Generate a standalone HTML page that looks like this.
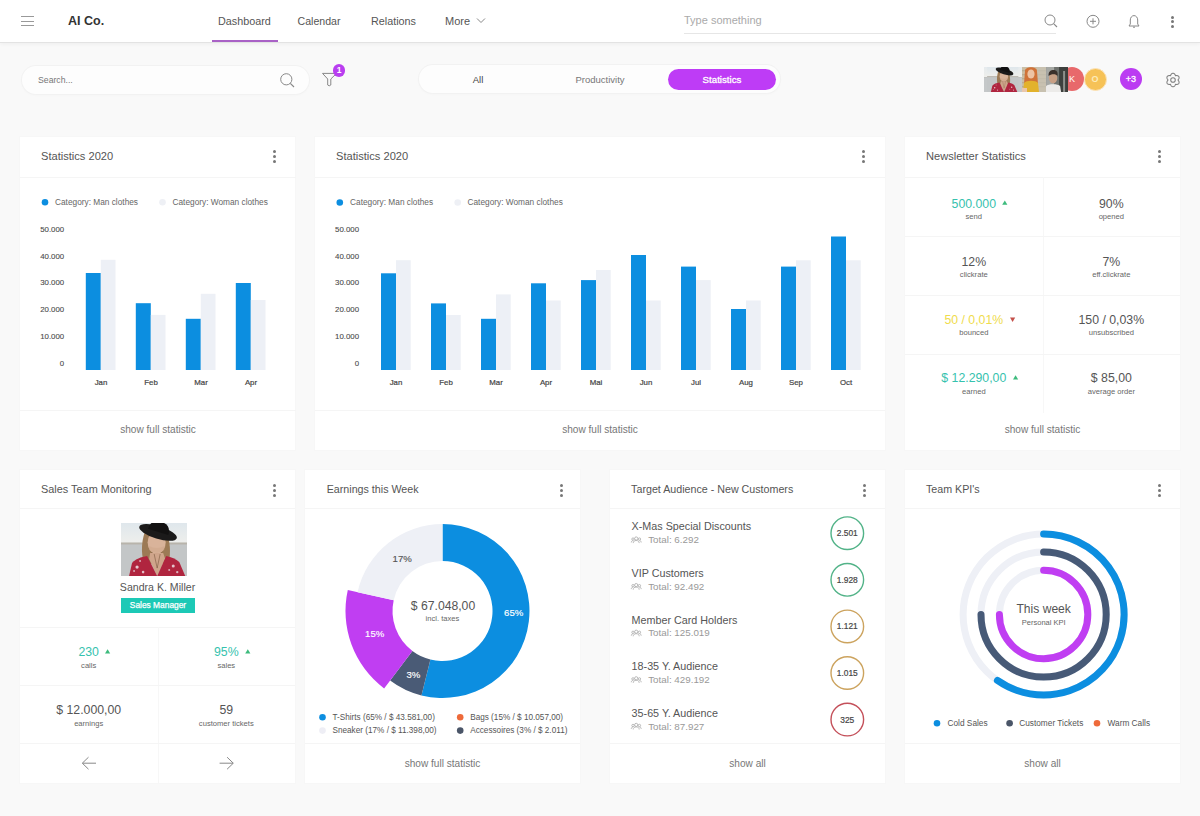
<!DOCTYPE html>
<html><head><meta charset="utf-8">
<style>
*{box-sizing:border-box;margin:0;padding:0}
html,body{width:1200px;height:816px;overflow:hidden;background:#f9f9f9;font-family:"Liberation Sans",sans-serif;color:#555}
.a{position:absolute}
.t{position:absolute;white-space:nowrap;line-height:20px;height:20px}
.c{text-align:center}
.r{text-align:right}
#hdr{position:absolute;left:0;top:0;width:1200px;height:42px;background:#fff;box-shadow:0 1px 0 #e3e3e3,0 2px 4px rgba(0,0,0,.05)}
.card{position:absolute;background:#fff;box-shadow:0 0 0 1px #f7f7f7}
.hl{position:absolute;height:1px;background:#f1f1f1}
.vl{position:absolute;width:1px;background:#f1f1f1}
.ttl{font-size:11px;color:#555}
.dots{position:absolute;width:3px;height:13px}
.dots i{position:absolute;left:0;width:3px;height:3px;border-radius:50%;background:#777}
.foot{font-size:10px;color:#777}
.pill{position:absolute;background:#fdfdfd;border-radius:14px;box-shadow:0 0 0 1px #f2f2f2,0 1px 3px rgba(0,0,0,.03)}
</style></head><body>
<!-- HEADER -->
<div id="hdr"></div>
<!-- hamburger -->
<div class="a" style="left:20.5px;top:16px;width:13px;height:1.2px;background:#999"></div>
<div class="a" style="left:20.5px;top:20.5px;width:13px;height:1.2px;background:#999"></div>
<div class="a" style="left:20.5px;top:25px;width:13px;height:1.2px;background:#999"></div>
<div class="t" style="left:68px;top:11px;font-size:12.5px;font-weight:bold;color:#333">AI Co.</div>
<div class="t" style="left:218px;top:11px;font-size:10.8px;color:#555">Dashboard</div>
<div class="t" style="left:297.5px;top:11px;font-size:10.6px;color:#555">Calendar</div>
<div class="t" style="left:371px;top:11px;font-size:10.8px;color:#555">Relations</div>
<div class="t" style="left:445px;top:11px;font-size:11px;color:#555">More</div>
<svg class="a" style="left:476px;top:17px" width="10" height="7" viewBox="0 0 10 7"><path d="M1 1.5 L5 5.5 L9 1.5" fill="none" stroke="#888" stroke-width="1"/></svg>
<div class="a" style="left:212px;top:40px;width:66px;height:2px;background:#a962c6"></div>
<div class="t" style="left:684px;top:10px;font-size:11px;color:#aaa">Type something</div>
<div class="a" style="left:684px;top:33px;width:372px;height:1px;background:#e6e6e6"></div>
<!-- header icons -->
<svg class="a" style="left:1043px;top:13px" width="16" height="16" viewBox="0 0 16 16"><circle cx="7" cy="7" r="5" fill="none" stroke="#888" stroke-width="1"/><path d="M10.6 10.6 L14 14" stroke="#888" stroke-width="1.1"/></svg>
<svg class="a" style="left:1085px;top:13px" width="16" height="16" viewBox="0 0 16 16"><circle cx="8" cy="8.3" r="6" fill="none" stroke="#888" stroke-width="1"/><path d="M8 5.3 V11.3 M5 8.3 H11" stroke="#888" stroke-width="1"/></svg>
<svg class="a" style="left:1126px;top:13px" width="16" height="16" viewBox="0 0 16 16"><path d="M3 13 L13 13 L11.7 11 L11.7 7 C11.7 4.5 10 2.6 8 2.6 C6 2.6 4.3 4.5 4.3 7 L4.3 11 Z" fill="none" stroke="#888" stroke-width="1" stroke-linejoin="round"/><path d="M7 14.2 H9" stroke="#888" stroke-width="1"/></svg>
<div class="dots" style="left:1171px;top:15.5px"><i style="top:0"></i><i style="top:4.7px"></i><i style="top:9.4px"></i></div>

<!-- TOOLBAR -->
<div class="pill" style="left:21.5px;top:65.5px;width:287px;height:28px"></div>
<div class="t" style="left:38px;top:70px;font-size:8.7px;color:#777">Search...</div>
<svg class="a" style="left:279px;top:72px" width="17" height="17" viewBox="0 0 17 17"><circle cx="7.3" cy="7.3" r="5.6" fill="none" stroke="#888" stroke-width="1"/><path d="M11.3 11.3 L15 15" stroke="#888" stroke-width="1.1"/></svg>
<svg class="a" style="left:321px;top:72px" width="17" height="16" viewBox="0 0 17 16"><path d="M1.5 1.4 H15.5 L9.8 7 V13 Q8.2 14.6 6.7 13 V7 Z" fill="none" stroke="#888" stroke-width="1" stroke-linejoin="round"/></svg>
<div class="a c" style="left:332.7px;top:64.1px;width:12.8px;height:12.8px;border-radius:50%;background:#b93ef0;color:#fff;font-size:8.5px;line-height:12.8px;font-weight:bold">1</div>

<div class="pill" style="left:419px;top:65px;width:361px;height:28px"></div>
<div class="a" style="left:668px;top:69px;width:108px;height:21px;border-radius:11px;background:#be3cf6"></div>
<div class="t c" style="left:428px;top:69.5px;width:100px;font-size:9.5px;color:#444">All</div>
<div class="t c" style="left:550px;top:69.5px;width:100px;font-size:9.5px;color:#777">Productivity</div>
<div class="t c" style="left:672px;top:69.5px;width:100px;font-size:9.7px;color:#fff;-webkit-text-stroke:0.3px #fff">Statistics</div>

<!-- avatars -->
<div class="a c" style="left:1060px;top:67px;width:24px;height:24px;border-radius:50%;background:#e8696b;color:#fff;font-size:9px;line-height:24px;text-indent:0px">K</div>
<div class="a" style="left:984.4px;top:66.6px;width:37.4px;height:25px;overflow:hidden;background:linear-gradient(180deg,#e6ebee 0,#eeeeeb 38%,#b9b7b0 39%,#c5c8c9 44%,#c5c8c9 100%)"><svg width="37.4" height="25" viewBox="0 0 66 53" preserveAspectRatio="xMidYMid meet" style="display:block">
<defs><linearGradient id="skya" x1="0" y1="0" x2="0" y2="1"><stop offset="0" stop-color="#dfe7ec"/><stop offset="1" stop-color="#efefec"/></linearGradient></defs>
<rect width="66" height="21" fill="url(#skya)"/>
<rect y="20" width="66" height="33" fill="#c3c6c7"/>
<rect y="19.5" width="66" height="2" fill="#b8b4ab"/>
<path d="M24 8 C19 22 21 34 23 41 L47 41 C49 34 50 24 46 10 Z" fill="#9c7a55"/><path d="M30 28 L41 28 L40 41 L31 41 Z" fill="#8a6a48"/>
<ellipse cx="35.5" cy="19.5" rx="9" ry="11.3" fill="#d9b39a"/>
<path d="M27.5 23 Q35.5 27 43.5 23 L43 27 Q35.5 33 28 27 Z" fill="#cfa68c" opacity=".6"/>
<g transform="rotate(17 37 9)"><ellipse cx="37" cy="9.5" rx="19.5" ry="6.3" fill="#1b1a1a"/><path d="M26.5 9 C26.5 1 31 -1.5 37 -1.5 C43 -1.5 47.5 1 47.5 9 Z" fill="#121111"/></g>
<path d="M29 30 L42 30 L44 36 L36 53 L28 36 Z" fill="#cfa58b"/>
<path d="M8 53 L11 40 C14 36 20 34 26 33 L36 53 Z" fill="#b0253f"/>
<path d="M64 53 L58 39 C55 36 50 34 45 33 L36 53 Z" fill="#b0253f"/>
<circle cx="16" cy="44" r="1.6" fill="#e7c9d0"/><circle cx="22" cy="49" r="1.3" fill="#e2c0c8"/><circle cx="52" cy="43" r="1.5" fill="#e3c3cb"/><circle cx="56" cy="49" r="1.2" fill="#dcb5bf"/><circle cx="19" cy="38" r="1" fill="#d9aab6"/><circle cx="13" cy="48" r="1" fill="#d9aab6"/><circle cx="48" cy="47" r="1" fill="#d9aab6"/>
<path d="M33 31 L36 45 L39 31" fill="none" stroke="#6b4a30" stroke-width=".5"/>
</svg></div>
<div class="a" style="left:1021.8px;top:66.6px;width:24px;height:25px;overflow:hidden"><svg width="24" height="25" viewBox="0 0 24 25" style="display:block">
<rect width="24" height="25" fill="#cbbfa6"/>
<g fill="#b9ad95"><rect y="3" width="24" height="1.3"/><rect y="7" width="24" height="1.3"/><rect y="11" width="24" height="1.3"/><rect y="15" width="24" height="1.3"/><rect y="19" width="24" height="1.3"/></g>
<rect x="15" width="9" height="25" fill="#c6c2b5" opacity=".7"/>
<path d="M3 4 C3 -1 15 -1 15 4 L16 17 L2 17 Z" fill="#d07238"/>
<ellipse cx="9" cy="7" rx="3.6" ry="4.6" fill="#edc3a4"/>
<path d="M1 25 L2 16 C4 13 14 13 16 16 L17 25 Z" fill="#e2b22c"/>
<rect x="0" y="21" width="5" height="4" fill="#eac7ad"/>
</svg></div>
<div class="a" style="left:1045.8px;top:66.6px;width:22.2px;height:25px;overflow:hidden"><svg width="22.2" height="25" viewBox="0 0 22 25" style="display:block">
<rect width="22" height="25" fill="#6f726e"/>
<rect x="0" width="8" height="25" fill="#a6a8a4"/>
<rect x="13" width="9" height="25" fill="#3d403d"/>
<rect x="17" y="4" width="2" height="21" fill="#8d8f8b"/>
<ellipse cx="7" cy="11" rx="4.2" ry="5.2" fill="#c89f84"/>
<path d="M2.5 9 C2 4 5 3 7.5 3 C10.5 3 12 5 11.5 9 C10 6.5 5 6.5 2.5 9 Z" fill="#3b302a"/>
<path d="M-1 25 L0 19 C2 16.5 12 16.5 14 19 L15 25 Z" fill="#ecebe9"/>
</svg></div>
<div class="a c" style="left:1083.6px;top:67.5px;width:23px;height:23px;border-radius:50%;background:#f6c257;border:1px solid #fce4bb;color:#fdebb8;font-size:9px;line-height:21px;font-weight:bold">O</div>
<div class="a c" style="left:1120px;top:68px;width:22px;height:22px;border-radius:50%;background:#bb3cf2;color:#fff;font-size:9px;line-height:22px;-webkit-text-stroke:0.3px #fff">+3</div>
<svg class="a" style="left:1162.85px;top:69.6px" width="20" height="20" viewBox="0 0 20 20"><path d="M15.00 10.00 L15.11 9.82 L15.25 9.63 L15.40 9.43 L15.54 9.22 L15.67 9.00 L15.80 8.77 L15.90 8.53 L15.98 8.28 L16.05 8.04 L16.08 7.79 L16.09 7.54 L16.07 7.30 L16.03 7.06 L15.95 6.84 L15.85 6.62 L15.71 6.43 L15.56 6.25 L15.38 6.09 L15.18 5.96 L14.96 5.84 L14.72 5.75 L14.48 5.68 L14.22 5.63 L13.96 5.60 L13.70 5.59 L13.44 5.59 L13.19 5.61 L12.94 5.63 L12.71 5.66 L12.50 5.67 L12.40 5.48 L12.31 5.27 L12.21 5.04 L12.10 4.81 L11.97 4.59 L11.83 4.37 L11.68 4.15 L11.51 3.96 L11.32 3.78 L11.12 3.63 L10.91 3.49 L10.69 3.39 L10.47 3.31 L10.24 3.27 L10.00 3.25 L9.76 3.27 L9.53 3.31 L9.31 3.39 L9.09 3.49 L8.88 3.63 L8.68 3.78 L8.49 3.96 L8.32 4.15 L8.17 4.37 L8.03 4.59 L7.90 4.81 L7.79 5.04 L7.69 5.27 L7.60 5.48 L7.50 5.67 L7.29 5.66 L7.06 5.63 L6.81 5.61 L6.56 5.59 L6.30 5.59 L6.04 5.60 L5.78 5.63 L5.52 5.68 L5.28 5.75 L5.04 5.84 L4.82 5.96 L4.62 6.09 L4.44 6.25 L4.29 6.43 L4.15 6.62 L4.05 6.84 L3.97 7.06 L3.93 7.30 L3.91 7.54 L3.92 7.79 L3.95 8.04 L4.02 8.28 L4.10 8.53 L4.20 8.77 L4.33 9.00 L4.46 9.22 L4.60 9.43 L4.75 9.63 L4.89 9.82 L5.00 10.00 L4.89 10.18 L4.75 10.37 L4.60 10.57 L4.46 10.78 L4.33 11.00 L4.20 11.23 L4.10 11.47 L4.02 11.72 L3.95 11.96 L3.92 12.21 L3.91 12.46 L3.93 12.70 L3.97 12.94 L4.05 13.16 L4.15 13.38 L4.29 13.57 L4.44 13.75 L4.62 13.91 L4.82 14.04 L5.04 14.16 L5.28 14.25 L5.52 14.32 L5.78 14.37 L6.04 14.40 L6.30 14.41 L6.56 14.41 L6.81 14.39 L7.06 14.37 L7.29 14.34 L7.50 14.33 L7.60 14.52 L7.69 14.73 L7.79 14.96 L7.90 15.19 L8.03 15.41 L8.17 15.63 L8.32 15.85 L8.49 16.04 L8.68 16.22 L8.88 16.37 L9.09 16.51 L9.31 16.61 L9.53 16.69 L9.76 16.73 L10.00 16.75 L10.24 16.73 L10.47 16.69 L10.69 16.61 L10.91 16.51 L11.12 16.37 L11.32 16.22 L11.51 16.04 L11.68 15.85 L11.83 15.63 L11.97 15.41 L12.10 15.19 L12.21 14.96 L12.31 14.73 L12.40 14.52 L12.50 14.33 L12.71 14.34 L12.94 14.37 L13.19 14.39 L13.44 14.41 L13.70 14.41 L13.96 14.40 L14.22 14.37 L14.48 14.32 L14.72 14.25 L14.96 14.16 L15.18 14.04 L15.38 13.91 L15.56 13.75 L15.71 13.57 L15.85 13.38 L15.95 13.16 L16.03 12.94 L16.07 12.70 L16.09 12.46 L16.08 12.21 L16.05 11.96 L15.98 11.72 L15.90 11.47 L15.80 11.23 L15.67 11.00 L15.54 10.78 L15.40 10.57 L15.25 10.37 L15.11 10.18 L15.00 10.00Z" fill="none" stroke="#808080" stroke-width="1.05" stroke-linejoin="round"/><circle cx="10" cy="10" r="2.3" fill="none" stroke="#808080" stroke-width="1.05"/></svg>

<!-- ROW 1 CARDS -->
<div class="card" style="left:20px;top:137px;width:275px;height:313px"></div>
<div class="card" style="left:315px;top:137px;width:570px;height:313px"></div>
<div class="card" style="left:905px;top:137px;width:275px;height:313px"></div>
<div class="card" style="left:20px;top:470px;width:275px;height:313px"></div>
<div class="card" style="left:305px;top:470px;width:275px;height:313px"></div>
<div class="card" style="left:610px;top:470px;width:275px;height:313px"></div>
<div class="card" style="left:905px;top:470px;width:275px;height:313px"></div>
<svg class="a" style="left:0;top:0" width="1200" height="816" viewBox="0 0 1200 816">
<rect x="85.8" y="273" width="15" height="97.0" fill="#0c8ee0"/>
<rect x="100.8" y="259.8" width="14.7" height="110.2" fill="#edf0f6"/>
<rect x="135.8" y="303.2" width="15" height="66.8" fill="#0c8ee0"/>
<rect x="150.8" y="314.9" width="14.7" height="55.1" fill="#edf0f6"/>
<rect x="185.8" y="318.8" width="15" height="51.2" fill="#0c8ee0"/>
<rect x="200.8" y="293.8" width="14.7" height="76.2" fill="#edf0f6"/>
<rect x="235.8" y="283" width="15" height="87.0" fill="#0c8ee0"/>
<rect x="250.8" y="300" width="14.7" height="70.0" fill="#edf0f6"/>
<rect x="381.0" y="273.3" width="15" height="96.7" fill="#0c8ee0"/>
<rect x="396.0" y="260.2" width="14.7" height="109.8" fill="#edf0f6"/>
<rect x="431.0" y="303.4" width="15" height="66.6" fill="#0c8ee0"/>
<rect x="446.0" y="315" width="14.7" height="55.0" fill="#edf0f6"/>
<rect x="481.0" y="318.8" width="15" height="51.2" fill="#0c8ee0"/>
<rect x="496.0" y="294.4" width="14.7" height="75.6" fill="#edf0f6"/>
<rect x="531.0" y="283.3" width="15" height="86.7" fill="#0c8ee0"/>
<rect x="546.0" y="300.5" width="14.7" height="69.5" fill="#edf0f6"/>
<rect x="581.0" y="280.1" width="15" height="89.9" fill="#0c8ee0"/>
<rect x="596.0" y="270" width="14.7" height="100.0" fill="#edf0f6"/>
<rect x="631.0" y="255" width="15" height="115.0" fill="#0c8ee0"/>
<rect x="646.0" y="300.5" width="14.7" height="69.5" fill="#edf0f6"/>
<rect x="681.0" y="266.6" width="15" height="103.4" fill="#0c8ee0"/>
<rect x="696.0" y="280.1" width="14.7" height="89.9" fill="#edf0f6"/>
<rect x="731.0" y="309" width="15" height="61.0" fill="#0c8ee0"/>
<rect x="746.0" y="300.5" width="14.7" height="69.5" fill="#edf0f6"/>
<rect x="781.0" y="266.6" width="15" height="103.4" fill="#0c8ee0"/>
<rect x="796.0" y="260.3" width="14.7" height="109.7" fill="#edf0f6"/>
<rect x="831.0" y="236.5" width="15" height="133.5" fill="#0c8ee0"/>
<rect x="846.0" y="260.3" width="14.7" height="109.7" fill="#edf0f6"/>
<path d="M442.50 524.00A87 87 0 1 1 421.45 695.42L430.40 659.51A50 50 0 1 0 442.50 561.00Z" fill="#0c8ee0"/>
<path d="M421.45 695.42A87 87 0 0 1 390.14 680.48L412.41 650.93A50 50 0 0 0 430.40 659.51Z" fill="#4a5b76"/>
<path d="M384.12 688.47A97 97 0 0 1 347.80 590.01L393.69 600.18A50 50 0 0 0 412.41 650.93Z" fill="#c03ef2"/>
<path d="M357.56 592.17A87 87 0 0 1 442.50 524.00L442.50 561.00A50 50 0 0 0 393.69 600.18Z" fill="#eef0f6"/>
<circle cx="1043.6" cy="614.5" r="80.5" fill="none" stroke="#eef0f6" stroke-width="7"/>
<circle cx="1043.6" cy="614.5" r="62.6" fill="none" stroke="#eef0f6" stroke-width="7"/>
<circle cx="1043.6" cy="614.5" r="44.2" fill="none" stroke="#eef0f6" stroke-width="7"/>
<path d="M1043.6 534.0A80.5 80.5 0 1 1 997.43 680.44" fill="none" stroke="#0c8ee0" stroke-width="7" stroke-linecap="round"/>
<path d="M1043.6 551.9A62.6 62.6 0 1 1 981.00 614.50" fill="none" stroke="#475a77" stroke-width="7" stroke-linecap="round"/>
<path d="M1043.6 570.3A44.2 44.2 0 1 1 999.40 614.50" fill="none" stroke="#c03ef2" stroke-width="7" stroke-linecap="round"/>
<path d="M1002.20 204.70L1007.40 204.70L1004.80 200.40Z" fill="#3dbb7d"/><path d="M1010.00 317.60L1015.20 317.60L1012.60 321.90Z" fill="#c4504a"/><path d="M1013.00 379.60L1018.20 379.60L1015.60 375.30Z" fill="#3dbb7d"/><path d="M105.00 653.50L110.20 653.50L107.60 649.20Z" fill="#3dbb7d"/><path d="M245.20 653.50L250.40 653.50L247.80 649.20Z" fill="#3dbb7d"/>
<path d="M96 763.2H82.5M88.5 757.2L82.3 763.2L88.5 769.2" fill="none" stroke="#888" stroke-width="1"/><path d="M219.6 763.2H233.1M227.1 757.2L233.3 763.2L227.1 769.2" fill="none" stroke="#888" stroke-width="1"/>
<circle cx="847.3" cy="533.20" r="16.3" fill="none" stroke="#52b388" stroke-width="1.4"/><g fill="none" stroke="#aaa" stroke-width="0.8"><circle cx="636.2" cy="538.50" r="1.6"/><path d="M633.2 543.10c0-1.8 1.3-2.6 3-2.6s3 .8 3 2.6"/><circle cx="633" cy="539.10" r="1.2"/><circle cx="639.4" cy="539.10" r="1.2"/><path d="M631.3 542.50c0-1.2.6-1.8 1.6-1.8M641.2 542.50c0-1.2-.6-1.8-1.6-1.8"/></g><circle cx="847.3" cy="579.80" r="16.3" fill="none" stroke="#52b388" stroke-width="1.4"/><g fill="none" stroke="#aaa" stroke-width="0.8"><circle cx="636.2" cy="585.10" r="1.6"/><path d="M633.2 589.70c0-1.8 1.3-2.6 3-2.6s3 .8 3 2.6"/><circle cx="633" cy="585.70" r="1.2"/><circle cx="639.4" cy="585.70" r="1.2"/><path d="M631.3 589.10c0-1.2.6-1.8 1.6-1.8M641.2 589.10c0-1.2-.6-1.8-1.6-1.8"/></g><circle cx="847.3" cy="626.40" r="16.3" fill="none" stroke="#cca35e" stroke-width="1.4"/><g fill="none" stroke="#aaa" stroke-width="0.8"><circle cx="636.2" cy="631.70" r="1.6"/><path d="M633.2 636.30c0-1.8 1.3-2.6 3-2.6s3 .8 3 2.6"/><circle cx="633" cy="632.30" r="1.2"/><circle cx="639.4" cy="632.30" r="1.2"/><path d="M631.3 635.70c0-1.2.6-1.8 1.6-1.8M641.2 635.70c0-1.2-.6-1.8-1.6-1.8"/></g><circle cx="847.3" cy="673.00" r="16.3" fill="none" stroke="#cca35e" stroke-width="1.4"/><g fill="none" stroke="#aaa" stroke-width="0.8"><circle cx="636.2" cy="678.30" r="1.6"/><path d="M633.2 682.90c0-1.8 1.3-2.6 3-2.6s3 .8 3 2.6"/><circle cx="633" cy="678.90" r="1.2"/><circle cx="639.4" cy="678.90" r="1.2"/><path d="M631.3 682.30c0-1.2.6-1.8 1.6-1.8M641.2 682.30c0-1.2-.6-1.8-1.6-1.8"/></g><circle cx="847.3" cy="719.60" r="16.3" fill="none" stroke="#c4505a" stroke-width="1.4"/><g fill="none" stroke="#aaa" stroke-width="0.8"><circle cx="636.2" cy="724.90" r="1.6"/><path d="M633.2 729.50c0-1.8 1.3-2.6 3-2.6s3 .8 3 2.6"/><circle cx="633" cy="725.50" r="1.2"/><circle cx="639.4" cy="725.50" r="1.2"/><path d="M631.3 728.90c0-1.2.6-1.8 1.6-1.8M641.2 728.90c0-1.2-.6-1.8-1.6-1.8"/></g>
<circle cx="45" cy="202.2" r="3.3" fill="#0c8ee0"/>
<circle cx="162.5" cy="202.2" r="3.3" fill="#eef0f5"/>
<circle cx="339.8" cy="202.5" r="3.3" fill="#0c8ee0"/>
<circle cx="457.7" cy="202.5" r="3.3" fill="#eef0f5"/>
<circle cx="322.5" cy="717.3" r="3.3" fill="#0c8ee0"/>
<circle cx="322.5" cy="730.6" r="3.3" fill="#eeeef5"/>
<circle cx="460.2" cy="717.3" r="3.3" fill="#ee6a3a"/>
<circle cx="460.2" cy="730.6" r="3.3" fill="#4a5568"/>
<circle cx="937" cy="723.2" r="3.3" fill="#0c8ee0"/>
<circle cx="1009.6" cy="723.2" r="3.3" fill="#4a5568"/>
<circle cx="1097" cy="723.2" r="3.3" fill="#ee6a3a"/>
</svg>
<div class="t" style="top:146.10px;font-size:11.1px;color:#555;left:41.00px;">Statistics 2020</div>
<div class="dots" style="left:273.00px;top:150.00px"><i style="top:0"></i><i style="top:5px"></i><i style="top:10px"></i></div>
<div class="hl" style="left:20px;top:177px;width:276px;background:#f5f5f5"></div>
<div class="t" style="top:146.10px;font-size:11.1px;color:#555;left:336.00px;">Statistics 2020</div>
<div class="dots" style="left:861.50px;top:150.00px"><i style="top:0"></i><i style="top:5px"></i><i style="top:10px"></i></div>
<div class="hl" style="left:315px;top:177px;width:570px;background:#f5f5f5"></div>
<div class="t" style="top:146.10px;font-size:11.1px;color:#555;left:926.00px;">Newsletter Statistics</div>
<div class="dots" style="left:1158.30px;top:150.00px"><i style="top:0"></i><i style="top:5px"></i><i style="top:10px"></i></div>
<div class="hl" style="left:905px;top:177px;width:275px;background:#f5f5f5"></div>
<div class="t" style="top:479.40px;font-size:10.9px;color:#555;left:41.00px;">Sales Team Monitoring</div>
<div class="dots" style="left:273.40px;top:483.70px"><i style="top:0"></i><i style="top:5px"></i><i style="top:10px"></i></div>
<div class="hl" style="left:20px;top:508px;width:275px;background:#f5f5f5"></div>
<div class="t" style="top:479.40px;font-size:10.7px;color:#555;left:326.70px;">Earnings this Week</div>
<div class="dots" style="left:559.50px;top:483.70px"><i style="top:0"></i><i style="top:5px"></i><i style="top:10px"></i></div>
<div class="hl" style="left:305px;top:508px;width:275px;background:#f5f5f5"></div>
<div class="t" style="top:479.40px;font-size:10.7px;color:#555;left:631.10px;">Target Audience - New Customers</div>
<div class="dots" style="left:863.20px;top:483.70px"><i style="top:0"></i><i style="top:5px"></i><i style="top:10px"></i></div>
<div class="hl" style="left:610px;top:508px;width:275px;background:#f5f5f5"></div>
<div class="t" style="top:479.40px;font-size:10.7px;color:#555;left:926.00px;">Team KPI's</div>
<div class="dots" style="left:1158.30px;top:483.70px"><i style="top:0"></i><i style="top:5px"></i><i style="top:10px"></i></div>
<div class="hl" style="left:905px;top:508px;width:275px;background:#f5f5f5"></div>
<div class="hl" style="left:20px;top:410px;width:276px;background:#f5f5f5"></div>
<div class="hl" style="left:315px;top:410px;width:570px;background:#f5f5f5"></div>
<div class="t" style="top:420.00px;font-size:10.1px;color:#777;left:8.00px;width:300px;text-align:center;">show full statistic</div>
<div class="t" style="top:420.00px;font-size:10.1px;color:#777;left:450.00px;width:300px;text-align:center;">show full statistic</div>
<div class="t" style="top:420.00px;font-size:10.1px;color:#777;left:892.50px;width:300px;text-align:center;">show full statistic</div>
<div class="hl" style="left:305px;top:743px;width:275px;background:#f5f5f5"></div>
<div class="hl" style="left:610px;top:743px;width:275px;background:#f5f5f5"></div>
<div class="hl" style="left:905px;top:743px;width:275px;background:#f5f5f5"></div>
<div class="t" style="top:753.60px;font-size:10.1px;color:#777;left:292.50px;width:300px;text-align:center;">show full statistic</div>
<div class="t" style="top:753.60px;font-size:10.1px;color:#777;left:597.50px;width:300px;text-align:center;">show all</div>
<div class="t" style="top:753.60px;font-size:10.1px;color:#777;left:892.50px;width:300px;text-align:center;">show all</div>
<div class="t" style="top:192.20px;font-size:8.3px;color:#666;left:55.00px;">Category: Man clothes</div>
<div class="t" style="top:192.20px;font-size:8.3px;color:#666;left:172.50px;">Category: Woman clothes</div>
<div class="t" style="top:192.20px;font-size:8.3px;color:#666;left:350.10px;">Category: Man clothes</div>
<div class="t" style="top:192.20px;font-size:8.3px;color:#666;left:467.50px;">Category: Woman clothes</div>
<div class="t" style="top:220.00px;font-size:7.85px;color:#4a4a4a;left:4.20px;width:60px;text-align:right;-webkit-text-stroke:0.1px #4a4a4a;">50.000</div>
<div class="t" style="top:246.70px;font-size:7.85px;color:#4a4a4a;left:4.20px;width:60px;text-align:right;-webkit-text-stroke:0.1px #4a4a4a;">40.000</div>
<div class="t" style="top:273.40px;font-size:7.85px;color:#4a4a4a;left:4.20px;width:60px;text-align:right;-webkit-text-stroke:0.1px #4a4a4a;">30.000</div>
<div class="t" style="top:300.10px;font-size:7.85px;color:#4a4a4a;left:4.20px;width:60px;text-align:right;-webkit-text-stroke:0.1px #4a4a4a;">20.000</div>
<div class="t" style="top:326.80px;font-size:7.85px;color:#4a4a4a;left:4.20px;width:60px;text-align:right;-webkit-text-stroke:0.1px #4a4a4a;">10.000</div>
<div class="t" style="top:353.50px;font-size:7.85px;color:#4a4a4a;left:4.20px;width:60px;text-align:right;-webkit-text-stroke:0.1px #4a4a4a;">0</div>
<div class="t" style="top:220.00px;font-size:7.85px;color:#4a4a4a;left:299.10px;width:60px;text-align:right;-webkit-text-stroke:0.1px #4a4a4a;">50.000</div>
<div class="t" style="top:246.70px;font-size:7.85px;color:#4a4a4a;left:299.10px;width:60px;text-align:right;-webkit-text-stroke:0.1px #4a4a4a;">40.000</div>
<div class="t" style="top:273.40px;font-size:7.85px;color:#4a4a4a;left:299.10px;width:60px;text-align:right;-webkit-text-stroke:0.1px #4a4a4a;">30.000</div>
<div class="t" style="top:300.10px;font-size:7.85px;color:#4a4a4a;left:299.10px;width:60px;text-align:right;-webkit-text-stroke:0.1px #4a4a4a;">20.000</div>
<div class="t" style="top:326.80px;font-size:7.85px;color:#4a4a4a;left:299.10px;width:60px;text-align:right;-webkit-text-stroke:0.1px #4a4a4a;">10.000</div>
<div class="t" style="top:353.50px;font-size:7.85px;color:#4a4a4a;left:299.10px;width:60px;text-align:right;-webkit-text-stroke:0.1px #4a4a4a;">0</div>
<div class="t" style="top:373.30px;font-size:7.85px;color:#444;left:81.00px;width:40px;text-align:center;-webkit-text-stroke:0.2px #444;">Jan</div>
<div class="t" style="top:373.30px;font-size:7.85px;color:#444;left:131.00px;width:40px;text-align:center;-webkit-text-stroke:0.2px #444;">Feb</div>
<div class="t" style="top:373.30px;font-size:7.85px;color:#444;left:181.00px;width:40px;text-align:center;-webkit-text-stroke:0.2px #444;">Mar</div>
<div class="t" style="top:373.30px;font-size:7.85px;color:#444;left:231.00px;width:40px;text-align:center;-webkit-text-stroke:0.2px #444;">Apr</div>
<div class="t" style="top:373.30px;font-size:7.85px;color:#444;left:376.00px;width:40px;text-align:center;-webkit-text-stroke:0.2px #444;">Jan</div>
<div class="t" style="top:373.30px;font-size:7.85px;color:#444;left:426.00px;width:40px;text-align:center;-webkit-text-stroke:0.2px #444;">Feb</div>
<div class="t" style="top:373.30px;font-size:7.85px;color:#444;left:476.00px;width:40px;text-align:center;-webkit-text-stroke:0.2px #444;">Mar</div>
<div class="t" style="top:373.30px;font-size:7.85px;color:#444;left:526.00px;width:40px;text-align:center;-webkit-text-stroke:0.2px #444;">Apr</div>
<div class="t" style="top:373.30px;font-size:7.85px;color:#444;left:576.00px;width:40px;text-align:center;-webkit-text-stroke:0.2px #444;">Mai</div>
<div class="t" style="top:373.30px;font-size:7.85px;color:#444;left:626.00px;width:40px;text-align:center;-webkit-text-stroke:0.2px #444;">Jun</div>
<div class="t" style="top:373.30px;font-size:7.85px;color:#444;left:676.00px;width:40px;text-align:center;-webkit-text-stroke:0.2px #444;">Jul</div>
<div class="t" style="top:373.30px;font-size:7.85px;color:#444;left:726.00px;width:40px;text-align:center;-webkit-text-stroke:0.2px #444;">Aug</div>
<div class="t" style="top:373.30px;font-size:7.85px;color:#444;left:776.00px;width:40px;text-align:center;-webkit-text-stroke:0.2px #444;">Sep</div>
<div class="t" style="top:373.30px;font-size:7.85px;color:#444;left:826.00px;width:40px;text-align:center;-webkit-text-stroke:0.2px #444;">Oct</div>
<div class="vl" style="left:1042.5px;top:177px;height:236px;background:#f7f7f7"></div>
<div class="hl" style="left:905px;top:236px;width:275px;background:#f5f5f5"></div>
<div class="hl" style="left:905px;top:295px;width:275px;background:#f5f5f5"></div>
<div class="hl" style="left:905px;top:354px;width:275px;background:#f5f5f5"></div>
<div class="t" style="top:193.60px;font-size:12.3px;color:#36c2ae;left:823.80px;width:300px;text-align:center;">500.000</div>
<div class="t" style="top:207.10px;font-size:7.6px;color:#666;left:823.80px;width:300px;text-align:center;">send</div>
<div class="t" style="top:193.60px;font-size:12.3px;color:#555;left:961.30px;width:300px;text-align:center;">90%</div>
<div class="t" style="top:207.10px;font-size:7.6px;color:#666;left:961.30px;width:300px;text-align:center;">opened</div>
<div class="t" style="top:251.75px;font-size:12.3px;color:#555;left:823.80px;width:300px;text-align:center;">12%</div>
<div class="t" style="top:265.25px;font-size:7.6px;color:#666;left:823.80px;width:300px;text-align:center;">clickrate</div>
<div class="t" style="top:251.75px;font-size:12.3px;color:#555;left:961.30px;width:300px;text-align:center;">7%</div>
<div class="t" style="top:265.25px;font-size:7.6px;color:#666;left:961.30px;width:300px;text-align:center;">eff.clickrate</div>
<div class="t" style="top:309.90px;font-size:12.3px;color:#efdc4c;left:823.80px;width:300px;text-align:center;">50 / 0,01%</div>
<div class="t" style="top:323.40px;font-size:7.6px;color:#666;left:823.80px;width:300px;text-align:center;">bounced</div>
<div class="t" style="top:309.90px;font-size:12.3px;color:#555;left:961.30px;width:300px;text-align:center;">150 / 0,03%</div>
<div class="t" style="top:323.40px;font-size:7.6px;color:#666;left:961.30px;width:300px;text-align:center;">unsubscribed</div>
<div class="t" style="top:368.05px;font-size:12.3px;color:#36c2ae;left:823.80px;width:300px;text-align:center;">$ 12.290,00</div>
<div class="t" style="top:381.55px;font-size:7.6px;color:#666;left:823.80px;width:300px;text-align:center;">earned</div>
<div class="t" style="top:368.05px;font-size:12.3px;color:#555;left:961.30px;width:300px;text-align:center;">$ 85,00</div>
<div class="t" style="top:381.55px;font-size:7.6px;color:#666;left:961.30px;width:300px;text-align:center;">average order</div>
<div class="a" style="left:120.9px;top:523.1px;width:66.3px;height:53px;overflow:hidden"><svg width="66.3" height="53" viewBox="0 0 66 53" preserveAspectRatio="xMidYMid slice" style="display:block">
<defs><linearGradient id="skyb" x1="0" y1="0" x2="0" y2="1"><stop offset="0" stop-color="#dfe7ec"/><stop offset="1" stop-color="#efefec"/></linearGradient></defs>
<rect width="66" height="21" fill="url(#skyb)"/>
<rect y="20" width="66" height="33" fill="#c3c6c7"/>
<rect y="19.5" width="66" height="2" fill="#b8b4ab"/>
<path d="M24 8 C19 22 21 34 23 41 L47 41 C49 34 50 24 46 10 Z" fill="#9c7a55"/><path d="M30 28 L41 28 L40 41 L31 41 Z" fill="#8a6a48"/>
<ellipse cx="35.5" cy="19.5" rx="9" ry="11.3" fill="#d9b39a"/>
<path d="M27.5 23 Q35.5 27 43.5 23 L43 27 Q35.5 33 28 27 Z" fill="#cfa68c" opacity=".6"/>
<g transform="rotate(17 37 9)"><ellipse cx="37" cy="9.5" rx="19.5" ry="6.3" fill="#1b1a1a"/><path d="M26.5 9 C26.5 1 31 -1.5 37 -1.5 C43 -1.5 47.5 1 47.5 9 Z" fill="#121111"/></g>
<path d="M29 30 L42 30 L44 36 L36 53 L28 36 Z" fill="#cfa58b"/>
<path d="M8 53 L11 40 C14 36 20 34 26 33 L36 53 Z" fill="#b0253f"/>
<path d="M64 53 L58 39 C55 36 50 34 45 33 L36 53 Z" fill="#b0253f"/>
<circle cx="16" cy="44" r="1.6" fill="#e7c9d0"/><circle cx="22" cy="49" r="1.3" fill="#e2c0c8"/><circle cx="52" cy="43" r="1.5" fill="#e3c3cb"/><circle cx="56" cy="49" r="1.2" fill="#dcb5bf"/><circle cx="19" cy="38" r="1" fill="#d9aab6"/><circle cx="13" cy="48" r="1" fill="#d9aab6"/><circle cx="48" cy="47" r="1" fill="#d9aab6"/>
<path d="M33 31 L36 45 L39 31" fill="none" stroke="#6b4a30" stroke-width=".5"/>
</svg></div>
<div class="t" style="top:577.30px;font-size:10.6px;color:#555;left:7.50px;width:300px;text-align:center;">Sandra K. Miller</div>
<div class="a c" style="left:121px;top:597.5px;width:74px;height:15px;background:#1dc9b6;color:#fff;font-size:8.4px;-webkit-text-stroke:0.25px #fff;line-height:15px">Sales Manager</div>
<div class="hl" style="left:20px;top:626.5px;width:275px;background:#f5f5f5"></div>
<div class="vl" style="left:157.5px;top:627px;height:156px;background:#f7f7f7"></div>
<div class="hl" style="left:20px;top:685px;width:275px;background:#f5f5f5"></div>
<div class="hl" style="left:20px;top:743px;width:275px;background:#f5f5f5"></div>
<div class="t" style="top:642.00px;font-size:12.3px;color:#36c2ae;left:-61.30px;width:300px;text-align:center;">230</div>
<div class="t" style="top:655.60px;font-size:7.6px;color:#666;left:-61.30px;width:300px;text-align:center;">calls</div>
<div class="t" style="top:642.00px;font-size:12.3px;color:#36c2ae;left:76.30px;width:300px;text-align:center;">95%</div>
<div class="t" style="top:655.60px;font-size:7.6px;color:#666;left:76.30px;width:300px;text-align:center;">sales</div>
<div class="t" style="top:700.30px;font-size:12.3px;color:#555;left:-61.30px;width:300px;text-align:center;">$ 12.000,00</div>
<div class="t" style="top:713.80px;font-size:7.6px;color:#666;left:-61.30px;width:300px;text-align:center;">earnings</div>
<div class="t" style="top:700.30px;font-size:12.3px;color:#555;left:76.30px;width:300px;text-align:center;">59</div>
<div class="t" style="top:713.80px;font-size:7.6px;color:#666;left:76.30px;width:300px;text-align:center;">customer tickets</div>
<div class="t" style="top:595.80px;font-size:12.2px;color:#555;left:293.00px;width:300px;text-align:center;">$ 67.048,00</div>
<div class="t" style="top:609.00px;font-size:7.6px;color:#666;left:292.50px;width:300px;text-align:center;">incl. taxes</div>
<div class="t" style="top:603.30px;font-size:9.6px;color:#fff;left:363.70px;width:300px;text-align:center;-webkit-text-stroke:0.15px #fff;">65%</div>
<div class="t" style="top:548.80px;font-size:9.6px;color:#555;left:252.20px;width:300px;text-align:center;-webkit-text-stroke:0.15px #555;">17%</div>
<div class="t" style="top:624.20px;font-size:9.6px;color:#fff;left:224.70px;width:300px;text-align:center;-webkit-text-stroke:0.15px #fff;">15%</div>
<div class="t" style="top:664.50px;font-size:9.6px;color:#fff;left:263.40px;width:300px;text-align:center;-webkit-text-stroke:0.15px #fff;">3%</div>
<div class="t" style="top:707.80px;font-size:8.2px;color:#555;left:332.50px;">T-Shirts (65% / $ 43.581,00)</div>
<div class="t" style="top:721.20px;font-size:8.2px;color:#555;left:332.50px;">Sneaker (17% / $ 11.398,00)</div>
<div class="t" style="top:707.80px;font-size:8.2px;color:#555;left:470.20px;">Bags (15% / $ 10.057,00)</div>
<div class="t" style="top:721.20px;font-size:8.2px;color:#555;left:470.20px;">Accessoires (3% / $ 2.011)</div>
<div class="t" style="top:516.30px;font-size:10.75px;color:#555;left:631.60px;">X-Mas Special Discounts</div>
<div class="t" style="top:530.10px;font-size:9.8px;color:#999;left:648.20px;">Total: 6.292</div>
<div class="t" style="top:523.20px;font-size:8.4px;color:#444;left:697.30px;width:300px;text-align:center;-webkit-text-stroke:0.2px #4a4a4a;">2.501</div>
<div class="t" style="top:562.90px;font-size:10.75px;color:#555;left:631.60px;">VIP Customers</div>
<div class="t" style="top:576.70px;font-size:9.8px;color:#999;left:648.20px;">Total: 92.492</div>
<div class="t" style="top:569.80px;font-size:8.4px;color:#444;left:697.30px;width:300px;text-align:center;-webkit-text-stroke:0.2px #4a4a4a;">1.928</div>
<div class="t" style="top:609.50px;font-size:10.75px;color:#555;left:631.60px;">Member Card Holders</div>
<div class="t" style="top:623.30px;font-size:9.8px;color:#999;left:648.20px;">Total: 125.019</div>
<div class="t" style="top:616.40px;font-size:8.4px;color:#444;left:697.30px;width:300px;text-align:center;-webkit-text-stroke:0.2px #4a4a4a;">1.121</div>
<div class="t" style="top:656.10px;font-size:10.75px;color:#555;left:631.60px;">18-35 Y. Audience</div>
<div class="t" style="top:669.90px;font-size:9.8px;color:#999;left:648.20px;">Total: 429.192</div>
<div class="t" style="top:663.00px;font-size:8.4px;color:#444;left:697.30px;width:300px;text-align:center;-webkit-text-stroke:0.2px #4a4a4a;">1.015</div>
<div class="t" style="top:702.70px;font-size:10.75px;color:#555;left:631.60px;">35-65 Y. Audience</div>
<div class="t" style="top:716.50px;font-size:9.8px;color:#999;left:648.20px;">Total: 87.927</div>
<div class="t" style="top:709.60px;font-size:8.4px;color:#444;left:697.30px;width:300px;text-align:center;-webkit-text-stroke:0.2px #4a4a4a;">325</div>
<div class="t" style="top:598.60px;font-size:12.1px;color:#555;left:893.70px;width:300px;text-align:center;">This week</div>
<div class="t" style="top:612.60px;font-size:7.5px;color:#666;left:893.70px;width:300px;text-align:center;">Personal KPI</div>
<div class="t" style="top:712.50px;font-size:8.3px;color:#555;left:947.50px;">Cold Sales</div>
<div class="t" style="top:712.50px;font-size:8.3px;color:#555;left:1019.20px;">Customer Tickets</div>
<div class="t" style="top:712.50px;font-size:8.3px;color:#555;left:1107.50px;">Warm Calls</div>
</body></html>
